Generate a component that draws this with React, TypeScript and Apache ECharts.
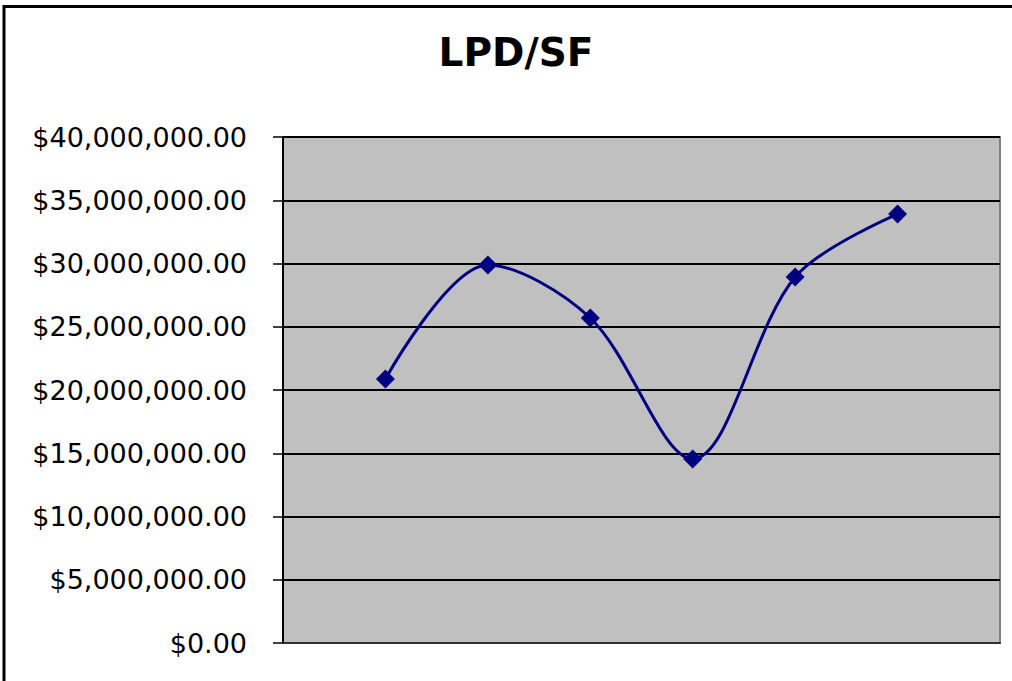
import React, { useEffect, useRef } from "react";
import * as echarts from "echarts";

const title = "LPD/SF";
const xPositions = [1, 2, 3, 4, 5, 6];
const values = [20870000, 29880000, 25690000, 14550000, 28930000, 33910000];
const yMin = 0;
const yMax = 40000000;
const yStep = 5000000;

function fmt(v: number): string {
  const s = v.toFixed(2);
  const [i, d] = s.split(".");
  return "$" + i.replace(/\B(?=(\d{3})+(?!\d))/g, ",") + "." + d;
}

export default function App() {
  const ref = useRef<HTMLDivElement>(null);
  useEffect(() => {
    if (!ref.current) return;
    const chart = echarts.init(ref.current, undefined, { renderer: "svg" });
    chart.setOption({
      animation: false,
      backgroundColor: "#ffffff",
      textStyle: { fontFamily: "DejaVu Sans" },
      grid: {
        left: 283,
        top: 137,
        right: 12,
        bottom: 38,
        show: true,
        backgroundColor: "#C0C0C0",
        borderColor: "#808080",
        borderWidth: 2,
      },
      graphic: [
        {
          type: "line",
          shape: { x1: 4, y1: 6.5, x2: 1012, y2: 6.5 },
          style: { stroke: "#000", lineWidth: 3 },
          z: 10,
        },
        {
          type: "line",
          shape: { x1: 4, y1: 5, x2: 4, y2: 681 },
          style: { stroke: "#000", lineWidth: 3 },
          z: 10,
        },
        {
          type: "text",
          x: 516,
          y: 52,
          style: {
            text: title,
            font: "bold 39px 'DejaVu Sans'",
            fill: "#000",
            textAlign: "center",
            textVerticalAlign: "middle",
          },
        },
      ],
      xAxis: {
        type: "value",
        min: 0,
        max: 7,
        axisLine: { show: true, onZero: false, lineStyle: { color: "#303030", width: 2 } },
        axisTick: { show: false },
        axisLabel: { show: false },
        splitLine: { show: false },
      },
      yAxis: {
        type: "value",
        min: yMin,
        max: yMax,
        interval: yStep,
        axisLine: { show: true, lineStyle: { color: "#000", width: 2 } },
        axisTick: { show: true, inside: false, length: 10, lineStyle: { color: "#000", width: 1.5 } },
        axisLabel: {
          formatter: (v: number) => fmt(v),
          fontSize: 27,
          fontFamily: "DejaVu Sans",
          color: "#000",
          margin: 36,
        },
        splitLine: { show: true, lineStyle: { color: "#000", width: 2 } },
      },
      series: [
        {
          type: "line",
          data: xPositions.map((x, i) => [x, values[i]]),
          smooth: 0.33,
          symbol: "diamond",
          symbolSize: 19,
          itemStyle: { color: "#000080" },
          lineStyle: { color: "#000080", width: 3 },
          z: 5,
        },
      ],
    });
    return () => chart.dispose();
  }, []);
  return (
    <div
      ref={ref}
      style={{ position: "fixed", left: 0, top: 0, width: 1012, height: 681 }}
    />
  );
}
